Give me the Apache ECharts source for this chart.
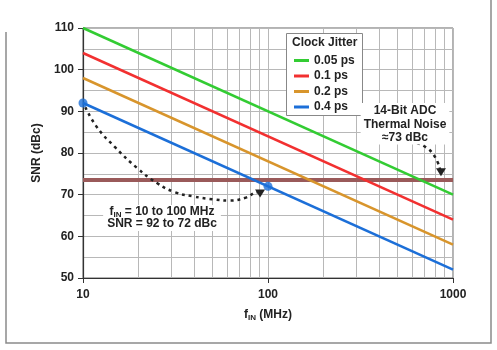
<!DOCTYPE html>
<html>
<head>
<meta charset="utf-8">
<script src="https://cdn.jsdelivr.net/npm/echarts@6/dist/echarts.min.js"></script>
<style>
  html, body { margin: 0; padding: 0; background: #fff; }
  #chart { width: 497px; height: 350px; }
</style>
</head>
<body>
<div id="chart"></div>
<script>
// data
const freqRange = [10, 1000];
const jitterLabels = ['0.05 ps', '0.1 ps', '0.2 ps', '0.4 ps'];
const snrAtStart = [110, 104, 98, 92];
const snrAtEnd = [70, 64, 58, 52];
const jitterColors = ['#33cc33', '#f23030', '#d8952c', '#1c6fd8'];
const thermalNoise = 73.5;
const highlightPoints = [[10, 92], [100, 72]];
const minorFreqs = [20, 30, 40, 50, 60, 70, 80, 90, 200, 300, 400, 500, 600, 700, 800, 900];
const xTickLabels = [10, 100, 1000];
// annotation arrows (data coords)
const arrowA = [[10.3, 91], [11.9, 86.2], [14.9, 81.4], [19.6, 76.4], [25.1, 72.8], [31.4, 70.6],
  [39.3, 69.6], [50, 68.9], [62, 68.6], [76, 69.3], [88, 70.6]];
const arrowAHead = [90.6, 70.3];
const arrowB = [[640, 82.4], [723, 81.2], [790, 79.4], [830, 77.6], [850, 76.2]];
const arrowBHead = [861, 75.4];

const FONT = 'Arial, "Liberation Sans", sans-serif';
const chart = echarts.init(document.getElementById('chart'));

const lineSeries = jitterLabels.map((name, i) => ({
  name: name,
  type: 'line',
  data: [[freqRange[0], snrAtStart[i]], [freqRange[1], snrAtEnd[i]]],
  symbol: 'none',
  lineStyle: { color: jitterColors[i], width: 2.5 },
  itemStyle: { color: jitterColors[i] },
  z: 3
}));

const arrowSeries = (pts, head) => ({
  type: 'line',
  smooth: true,
  data: pts.map(p => ({ value: p, symbol: 'none' })).concat([
    { value: head, symbol: 'triangle', symbolSize: [10, 8], symbolRotate: 180 }
  ]),
  showSymbol: true,
  lineStyle: { color: '#222', width: 2.5, type: [3, 4] },
  itemStyle: { color: '#222' },
  silent: true,
  z: 4
});

const option = {
  animation: false,
  textStyle: { fontFamily: FONT },
  grid: { left: 83, right: 44, top: 28, bottom: 72, show: true, borderColor: '#666', borderWidth: 1 },
  legend: {
    data: jitterLabels,
    orient: 'vertical',
    left: 294,
    top: 54.5,
    padding: 0,
    itemWidth: 15,
    itemHeight: 3,
    itemGap: 3.5,
    icon: 'rect',
    textStyle: { fontFamily: FONT, fontSize: 12, fontWeight: 'bold', color: '#222' },
    z: 6
  },
  xAxis: {
    type: 'log',
    logBase: 10,
    min: freqRange[0],
    max: freqRange[1],
    name: '{f|f}{s|IN}{n| (MHz)}',
    nameLocation: 'middle',
    nameGap: 30,
    nameTextStyle: {
      rich: {
        f: { fontFamily: FONT, fontSize: 12, fontWeight: 'bold', color: '#222' },
        s: { fontFamily: FONT, fontSize: 8, fontWeight: 'bold', color: '#222', padding: [6, 0, 0, 0] },
        n: { fontFamily: FONT, fontSize: 12, fontWeight: 'bold', color: '#222' }
      }
    },
    axisLine: { show: true, lineStyle: { color: '#333', width: 1.2 } },
    axisTick: { show: true, length: 5, lineStyle: { color: '#333' } },
    axisLabel: {
      margin: 11,
      fontFamily: FONT, fontSize: 12, fontWeight: 'bold', color: '#222',
      formatter: v => (xTickLabels.indexOf(Math.round(v)) >= 0 ? String(Math.round(v)) : '')
    },
    splitLine: { show: true, lineStyle: { color: '#b8b8b8', width: 1 } }
  },
  yAxis: {
    type: 'value',
    min: 50,
    max: 110,
    interval: 10,
    name: 'SNR (dBc)',
    nameLocation: 'middle',
    nameGap: 40,
    nameTextStyle: { fontFamily: FONT, fontSize: 12, fontWeight: 'bold', color: '#222' },
    axisLine: { show: true, lineStyle: { color: '#333', width: 1.2 } },
    axisTick: { show: true, length: 5, lineStyle: { color: '#333' } },
    axisLabel: { margin: 9, fontFamily: FONT, fontSize: 12, fontWeight: 'bold', color: '#222' },
    splitLine: { show: true, lineStyle: { color: '#b8b8b8', width: 1 } },
    minorTick: { show: false, splitNumber: 2 },
    minorSplitLine: { show: true, lineStyle: { color: '#b8b8b8', width: 1 } }
  },
  series: [
    {
      // minor log grid lines
      type: 'line',
      data: [],
      silent: true,
      markLine: {
        silent: true,
        z: 0,
        symbol: ['none', 'none'],
        label: { show: false },
        lineStyle: { color: '#b8b8b8', width: 1, type: 'solid' },
        data: minorFreqs.map(f => ({ xAxis: f }))
      },
      z: 0
    },
    {
      name: 'Thermal Noise',
      type: 'line',
      data: [[freqRange[0], thermalNoise], [freqRange[1], thermalNoise]],
      symbol: 'none',
      lineStyle: { color: '#9a5a5a', width: 4 },
      silent: true,
      z: 2
    },
    ...lineSeries,
    arrowSeries(arrowA, arrowAHead),
    arrowSeries(arrowB, arrowBHead),
    {
      type: 'scatter',
      data: highlightPoints,
      symbolSize: 9,
      itemStyle: { color: '#1c6fd8' },
      z: 5
    }
  ],
  graphic: [
    {
      type: 'polyline',
      silent: true,
      shape: { points: [[6, 32], [6, 343], [491, 343], [491, 0]] },
      style: { stroke: '#8a8a8a', lineWidth: 1.5, fill: null }
    },
    {
      type: 'rect',
      z: 3,
      silent: true,
      shape: { x: 286.5, y: 33.5, width: 76, height: 82 },
      style: { fill: '#fff', stroke: '#888', lineWidth: 1 }
    },
    {
      type: 'text',
      z: 6,
      left: 292,
      top: 37,
      style: { text: 'Clock Jitter', font: 'bold 12px ' + FONT, fill: '#222' }
    },
    {
      type: 'text',
      z: 6,
      x: 405,
      y: 103,
      style: {
        text: '14-Bit ADC\nThermal Noise\n\u224873 dBc',
        font: 'bold 12px ' + FONT,
        fill: '#222',
        align: 'center',
        lineHeight: 13.5,
        backgroundColor: '#fff',
        padding: [1, 3, 0, 3]
      }
    },
    {
      type: 'text',
      z: 6,
      x: 162,
      y: 205,
      style: {
        text: '{f|f}{s|IN}{n| = 10 to 100 MHz}\n{n|SNR = 92 to 72 dBc}',
        align: 'center',
        backgroundColor: '#fff',
        padding: [1, 4, 1, 4],
        rich: {
          f: { font: 'bold 12px ' + FONT, fill: '#222', lineHeight: 12 },
          s: { font: 'bold 8px ' + FONT, fill: '#222', padding: [6, 0, 0, 0], lineHeight: 12 },
          n: { font: 'bold 12px ' + FONT, fill: '#222', lineHeight: 12 }
        }
      }
    }
  ]
};

chart.setOption(option);
</script>
</body>
</html>
